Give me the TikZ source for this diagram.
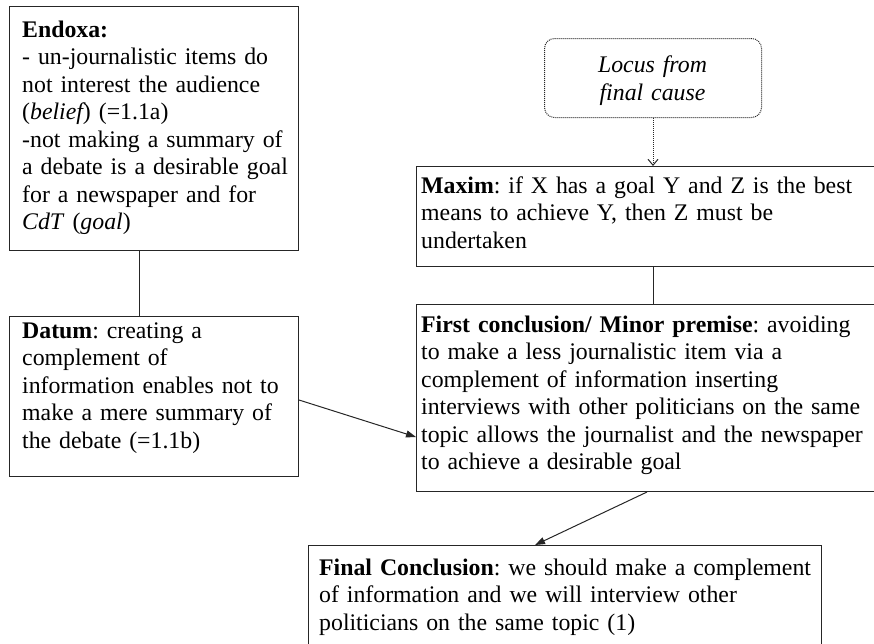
\documentclass[tikz,border=0pt]{standalone}
\usepackage{fontspec}
\setmainfont{Liberation Serif}
\usetikzlibrary{arrows.meta}
\frenchspacing
\begin{document}
\begin{tikzpicture}[x=1pt,y=-1pt,
  box/.style={draw=black!85, line width=1pt, anchor=north west, inner sep=0pt},
  txt/.style={anchor=base west, inner sep=0pt, align=left, text width=#1,
    font=\fontsize{23.8}{27.5}\selectfont},
  link/.style={draw=black!85, line width=1pt},
  tip/.style={-{Triangle[length=10pt,width=7pt]}},
]
\useasboundingbox (0,0) rectangle (874,643);
\clip (0,0) rectangle (874,643);

% frames
\node[box, minimum width=289pt, minimum height=244pt] (endoxa) at (9,6) {};
\node[box, minimum width=289pt, minimum height=160pt] (datum) at (9,316) {};
\node[box, rounded corners=10pt, dash pattern=on 1pt off 1pt,
      minimum width=217pt, minimum height=79pt] (locus) at (544,38) {};
\node[box, minimum width=480pt, minimum height=100pt] (maxim) at (416,166) {};
\node[box, minimum width=480pt, minimum height=187pt] (first) at (416,304) {};
\node[box, minimum width=513pt, minimum height=120pt] (final) at (308,545) {};

% texts
\node[txt=300pt] (endoxaT) at (22,37) {\textbf{Endoxa:}\\
- un-journalistic items do\\
not interest the audience\\
(\textit{belief\nocorr}) (=1.1a)\\
-not making a summary of\\
a debate is a desirable goal\\
for a newspaper and for\\
\textit{CdT} (\textit{goal\nocorr})};

\node[txt=300pt] (datumT) at (22,338) {\textbf{Datum}: creating a\\
complement of\\
information enables not to\\
make a mere summary of\\
the debate (=1.1b)};

\node[anchor=base, inner sep=0pt, align=center, text width=210pt,
      font=\fontsize{23.8}{28}\selectfont\itshape] (locusT) at (652.5,72)
  {Locus from\\final cause};

\node[txt=470pt] (maximT) at (421,193) {\textbf{Maxim}: if X has a goal Y and Z is the best\\
means to achieve Y, then Z must be\\
undertaken};

\node[txt=470pt] (firstT) at (421,332) {\textbf{First conclusion/ Minor premise}: avoiding\\
to make a less journalistic item via a\\
complement of information inserting\\
interviews with other politicians on the same\\
topic allows the journalist and the newspaper\\
to achieve a desirable goal};

\node[txt=500pt] (finalT) at (319,575) {\textbf{Final Conclusion}: we should make a complement\\
of information and we will interview other\\
politicians on the same topic (1)};

% connectors
\draw[link] ([xshift=130pt]endoxa.south west) -- ([xshift=130pt]datum.north west);
\draw[link, tip] ([yshift=-84pt]datum.north east) -- ([yshift=-133pt]first.north west);
\draw[link, dash pattern=on 1pt off 1pt, -{Straight Barb[length=6pt,width=10pt]}]
  (locus.south) -- (locus.south |- maxim.north);
\draw[link] (locus.south |- maxim.south) -- (locus.south |- first.north);
\draw[link, tip] ([xshift=231pt]first.south west) -- ([xshift=227pt]final.north west);
\end{tikzpicture}
\end{document}
